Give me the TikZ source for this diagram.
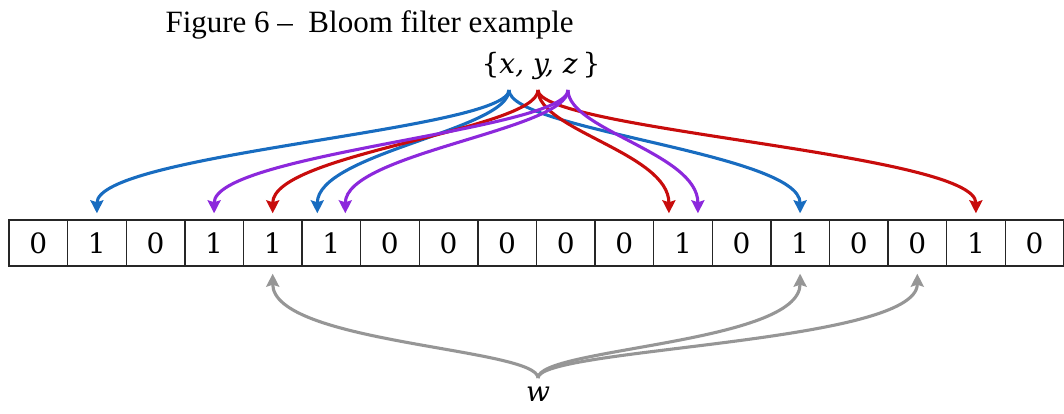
\documentclass[tikz,border=0pt]{standalone}
\usepackage{fontspec}
\newfontfamily\capfont{Liberation Serif}
\newfontfamily\dvs{DejaVu Serif}
\usetikzlibrary{arrows.meta,calc}
\definecolor{hblue}{RGB}{24,108,192}
\definecolor{hred}{RGB}{200,12,12}
\definecolor{hpurple}{RGB}{140,40,220}
\definecolor{hgray}{RGB}{150,150,150}
\tikzset{
  cell/.style={draw=black!85, line width=1.4pt, minimum width=58.6pt, minimum height=46pt, inner sep=0pt, font=\dvs\fontsize{28}{28}\selectfont},
  hash/.style={line width=3.1pt, -{Stealth[length=13pt,width=13pt,inset=2pt]}},
  topcurve/.style={hash},
  lbl/.style={font=\dvs\fontsize{28}{28}\selectfont},
}
\begin{document}
\begin{tikzpicture}[x=1pt,y=-1pt]
\useasboundingbox (0,0) rectangle (1064,414);
\clip (0,0) rectangle (1064,414);
\node[font=\capfont\fontsize{31}{31}\selectfont, anchor=base west] (cap) at (162,33) {Figure 6 –\ \ Bloom filter example};
\foreach \v [count=\i from 0] in {0,1,0,1,1,1,0,0,0,0,0,1,0,1,0,0,1,0}
  \node[cell] (c\i) at ({9+58.6*(\i+0.5)},243) {\v};
\node[lbl] (set) at (541,66) {\{\textit{x, y, z}\,\}};
\node[lbl] (w) at (538,394) {\textit{w}};
\coordinate (sx) at (509,90);
\coordinate (sy) at (538,90);
\coordinate (sz) at (568,90);
\coordinate (sw) at (538,378);
% targets on top
\coordinate (t1) at ([yshift=6pt]c1.north);
\coordinate (t3) at ([yshift=6pt]c3.north);
\coordinate (t4) at ([yshift=6pt]c4.north);
\coordinate (t5a) at ([yshift=6pt,xshift=-14pt]c5.north);
\coordinate (t5b) at ([yshift=6pt,xshift=14pt]c5.north);
\coordinate (t11a) at ([yshift=6pt,xshift=-14pt]c11.north);
\coordinate (t11b) at ([yshift=6pt,xshift=15pt]c11.north);
\coordinate (t13) at ([yshift=6pt]c13.north);
\coordinate (t16) at ([yshift=6pt]c16.north);
% targets below
\coordinate (b4) at ([yshift=-7pt]c4.south);
\coordinate (b13) at ([yshift=-7pt]c13.south);
\coordinate (b15) at ([yshift=-7pt]c15.south);
% x (blue)
\draw[topcurve, hblue] (sx) .. controls +(0,40) and +(0,-60) .. (t1);
\draw[topcurve, hblue] (sx) .. controls +(0,40) and +(0,-60) .. (t5a);
\draw[topcurve, hblue] (sx) .. controls +(0,40) and +(0,-60) .. (t13);
% y (red)
\draw[topcurve, hred] (sy) .. controls +(0,40) and +(0,-60) .. (t4);
\draw[topcurve, hred] (sy) .. controls +(0,40) and +(0,-60) .. (t11a);
\draw[topcurve, hred] (sy) .. controls +(0,40) and +(0,-60) .. (t16);
% z (purple)
\draw[topcurve, hpurple] (sz) .. controls +(0,40) and +(0,-60) .. (t3);
\draw[topcurve, hpurple] (sz) .. controls +(0,40) and +(0,-60) .. (t5b);
\draw[topcurve, hpurple] (sz) .. controls +(0,40) and +(0,-60) .. (t11b);
% w (gray)
\draw[hash, hgray] (sw) .. controls +(0,-30) and +(0,70) .. (b4);
\draw[hash, hgray] (sw) .. controls +(0,-30) and +(0,70) .. (b13);
\draw[hash, hgray] (sw) .. controls +(0,-30) and +(0,70) .. (b15);
\end{tikzpicture}
\end{document}
